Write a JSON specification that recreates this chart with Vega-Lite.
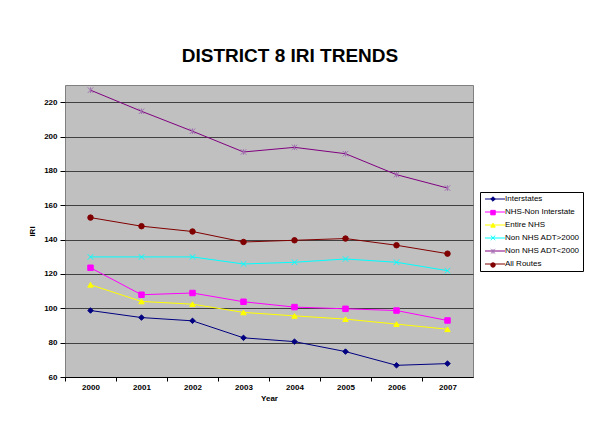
{
  "$schema": "https://vega.github.io/schema/vega-lite/v6.json",
  "width": 408,
  "height": 292,
  "autosize": {"type": "none"},
  "padding": {"left": 65, "top": 85, "right": 119, "bottom": 68},
  "background": "white",
  "title": {"text": "DISTRICT 8 IRI TRENDS", "font": "Liberation Sans", "fontSize": 19, "fontWeight": 900, "color": "black", "anchor": "middle", "dx": 21, "offset": 19},
  "config": {"view": {"fill": "#c0c0c0", "stroke": "#808080"}, "font": "Liberation Sans"},
  "data": {"values": [
    {"year": "2000", "series": "Interstates", "iri": 98.7},
    {"year": "2001", "series": "Interstates", "iri": 94.6},
    {"year": "2002", "series": "Interstates", "iri": 92.7},
    {"year": "2003", "series": "Interstates", "iri": 82.8},
    {"year": "2004", "series": "Interstates", "iri": 80.6},
    {"year": "2005", "series": "Interstates", "iri": 74.8},
    {"year": "2006", "series": "Interstates", "iri": 66.8},
    {"year": "2007", "series": "Interstates", "iri": 67.8},
    {"year": "2000", "series": "NHS-Non Interstate", "iri": 123.6},
    {"year": "2001", "series": "NHS-Non Interstate", "iri": 107.9},
    {"year": "2002", "series": "NHS-Non Interstate", "iri": 108.9},
    {"year": "2003", "series": "NHS-Non Interstate", "iri": 103.8},
    {"year": "2004", "series": "NHS-Non Interstate", "iri": 100.7},
    {"year": "2005", "series": "NHS-Non Interstate", "iri": 99.7},
    {"year": "2006", "series": "NHS-Non Interstate", "iri": 98.7},
    {"year": "2007", "series": "NHS-Non Interstate", "iri": 92.9},
    {"year": "2000", "series": "Entire NHS", "iri": 113.7},
    {"year": "2001", "series": "Entire NHS", "iri": 104.0},
    {"year": "2002", "series": "Entire NHS", "iri": 102.4},
    {"year": "2003", "series": "Entire NHS", "iri": 97.6},
    {"year": "2004", "series": "Entire NHS", "iri": 95.6},
    {"year": "2005", "series": "Entire NHS", "iri": 93.7},
    {"year": "2006", "series": "Entire NHS", "iri": 90.8},
    {"year": "2007", "series": "Entire NHS", "iri": 87.8},
    {"year": "2000", "series": "Non NHS ADT>2000", "iri": 129.9},
    {"year": "2001", "series": "Non NHS ADT>2000", "iri": 129.9},
    {"year": "2002", "series": "Non NHS ADT>2000", "iri": 129.9},
    {"year": "2003", "series": "Non NHS ADT>2000", "iri": 125.8},
    {"year": "2004", "series": "Non NHS ADT>2000", "iri": 126.8},
    {"year": "2005", "series": "Non NHS ADT>2000", "iri": 128.7},
    {"year": "2006", "series": "Non NHS ADT>2000", "iri": 126.8},
    {"year": "2007", "series": "Non NHS ADT>2000", "iri": 121.9},
    {"year": "2000", "series": "Non NHS ADT<2000", "iri": 227.0},
    {"year": "2001", "series": "Non NHS ADT<2000", "iri": 214.7},
    {"year": "2002", "series": "Non NHS ADT<2000", "iri": 203.1},
    {"year": "2003", "series": "Non NHS ADT<2000", "iri": 191.0},
    {"year": "2004", "series": "Non NHS ADT<2000", "iri": 193.7},
    {"year": "2005", "series": "Non NHS ADT<2000", "iri": 190.0},
    {"year": "2006", "series": "Non NHS ADT<2000", "iri": 177.8},
    {"year": "2007", "series": "Non NHS ADT<2000", "iri": 170.0},
    {"year": "2000", "series": "All Routes", "iri": 152.8},
    {"year": "2001", "series": "All Routes", "iri": 147.8},
    {"year": "2002", "series": "All Routes", "iri": 144.7},
    {"year": "2003", "series": "All Routes", "iri": 138.6},
    {"year": "2004", "series": "All Routes", "iri": 139.6},
    {"year": "2005", "series": "All Routes", "iri": 140.6},
    {"year": "2006", "series": "All Routes", "iri": 136.7},
    {"year": "2007", "series": "All Routes", "iri": 131.8}
  ]},
  "encoding": {
    "x": {"field": "year", "type": "ordinal", "scale": {"type": "point", "padding": 0.5},
      "axis": {"title": "Year", "labelAngle": 0, "labelFontSize": 8, "labelFontWeight": "bold", "labelColor": "black", "titleFontSize": 8, "titleFontWeight": "bold", "titleColor": "black", "titlePadding": 3, "tickSize": 4, "tickColor": "black", "tickOffset": -25.5, "labelOffset": 25.5, "labelPadding": 2, "domainColor": "black", "grid": false}},
    "y": {"field": "iri", "type": "quantitative", "scale": {"domain": [60, 230], "nice": false, "zero": false},
      "axis": {"title": "IRI", "values": [60, 80, 100, 120, 140, 160, 180, 200, 220], "labelFontSize": 8, "labelFontWeight": "bold", "labelColor": "black", "titleFontSize": 8, "titleFontWeight": "bold", "titleColor": "black", "titlePadding": 7, "tickSize": 5, "tickColor": "black", "labelPadding": 3, "domain": false, "grid": true, "gridColor": "#404040", "gridWidth": 1}}
  },
  "layer": [
    {
      "mark": {"type": "line", "strokeWidth": 1},
      "encoding": {
        "color": {"field": "series", "type": "nominal",
          "sort": ["Interstates", "NHS-Non Interstate", "Entire NHS", "Non NHS ADT>2000", "Non NHS ADT<2000", "All Routes"],
          "scale": {"range": ["#000080", "#ff00ff", "#ffff00", "#00ffff", "#800080", "#800000"]},
          "legend": {"title": null, "orient": "none", "legendX": 415, "legendY": 107, "symbolType": "M-0.8,0H7.2", "symbolSize": 25, "symbolStrokeWidth": 1, "labelFontSize": 8, "labelColor": "black", "labelOffset": 14, "rowPadding": 5, "padding": 3, "strokeColor": "black", "fillColor": "white",
            "encode": {"symbols": {"update": {"stroke": {"scale": "color", "field": "value"}, "fill": {"value": "transparent"}}}}}}
      }
    },
    {
      "mark": {"type": "point", "filled": true, "size": 30, "strokeWidth": 1, "opacity": 1},
      "encoding": {
        "fill": {"field": "series", "type": "nominal",
          "scale": {"domain": ["Interstates", "NHS-Non Interstate", "Entire NHS", "Non NHS ADT>2000", "Non NHS ADT<2000", "All Routes"], "range": ["#000080", "#ff00ff", "#ffff00", "#00ffff", "#a070b0", "#800000"]},
          "legend": {"title": null, "orient": "none", "legendX": 421, "legendY": 107, "symbolSize": 20, "symbolStrokeWidth": 1, "labelFontSize": 8, "labelOpacity": 0, "labelExpr": "''", "labelOffset": 2, "rowPadding": 3.6, "padding": 3}},
        "stroke": {"field": "series", "type": "nominal",
          "scale": {"domain": ["Interstates", "NHS-Non Interstate", "Entire NHS", "Non NHS ADT>2000", "Non NHS ADT<2000", "All Routes"], "range": ["#000080", "#ff00ff", "#ffff00", "#00ffff", "#a070b0", "#800000"]},
          "legend": {"title": null, "orient": "none", "legendX": 421, "legendY": 107, "symbolSize": 20, "symbolStrokeWidth": 1, "labelFontSize": 8, "labelOpacity": 0, "labelExpr": "''", "labelOffset": 2, "rowPadding": 3.6, "padding": 3}},
        "shape": {"field": "series", "type": "nominal",
          "scale": {"domain": ["Interstates", "NHS-Non Interstate", "Entire NHS", "Non NHS ADT>2000", "Non NHS ADT<2000", "All Routes"], "range": ["diamond", "square", "triangle-up", "M-1,-1L1,1M-1,1L1,-1", "M-1,-1L1,1M-1,1L1,-1M0,-1L0,1", "circle"]},
          "legend": {"title": null, "orient": "none", "legendX": 421, "legendY": 107, "symbolSize": 20, "symbolStrokeWidth": 1, "labelFontSize": 8, "labelOpacity": 0, "labelExpr": "''", "labelOffset": 2, "rowPadding": 3.6, "padding": 3}}
      }
    }
  ]
}
